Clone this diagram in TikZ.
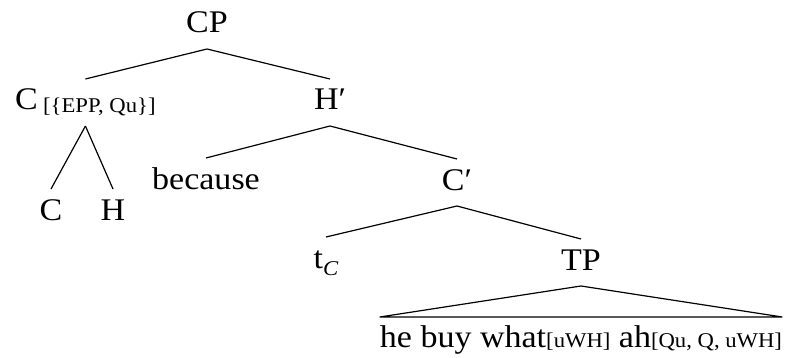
\documentclass[tikz,border=0pt]{standalone}
\usepackage{fontspec}
\setmainfont[FakeStretch=1.08]{Liberation Serif}
\begin{document}
\begin{tikzpicture}[x=1pt,y=-1pt,
  lbl/.style={inner sep=0pt,anchor=base,font=\fontsize{31.5}{36}\selectfont},
  edge/.style={line width=1.2pt}]
\useasboundingbox (0,0) rectangle (791,358);
\newcommand\smf{\fontsize{21}{25}\selectfont}
\node[lbl] (cp) at (207,33) {CP};
\node[lbl,anchor=base west] (c1) at (15,110) {C\,\raisebox{-3pt}{\smf[\{EPP, Qu\}]}};
\node[lbl] (hb) at (330,110) {H′};
\node[lbl] (c2) at (51,220) {C};
\node[lbl] (h) at (113,220) {H};
\node[lbl] (bec) at (206,189) {because};
\node[lbl] (cb) at (457,190) {C′};
\node[lbl] (tc) at (326,268) {t\raisebox{-7pt}{\smf\itshape C}};
\node[lbl] (tp) at (581,270) {TP};
\node[lbl] (bot) at (581,347) {he buy what{\smf[uWH]} ah{\smf[Qu, Q, uWH]}};
\foreach \p/\c in {cp/c1,cp/hb,c1/c2,c1/h,hb/bec,hb/cb,cb/tc,cb/tp}
  \draw[edge] ([yshift=-16pt]\p.base) -- ([yshift=31pt]\c.base);
\draw[edge] ([yshift=-16pt]tp.base) -- ([yshift=30pt]bot.base west) -- ([yshift=30pt]bot.base east) -- cycle;
\end{tikzpicture}
\end{document}
